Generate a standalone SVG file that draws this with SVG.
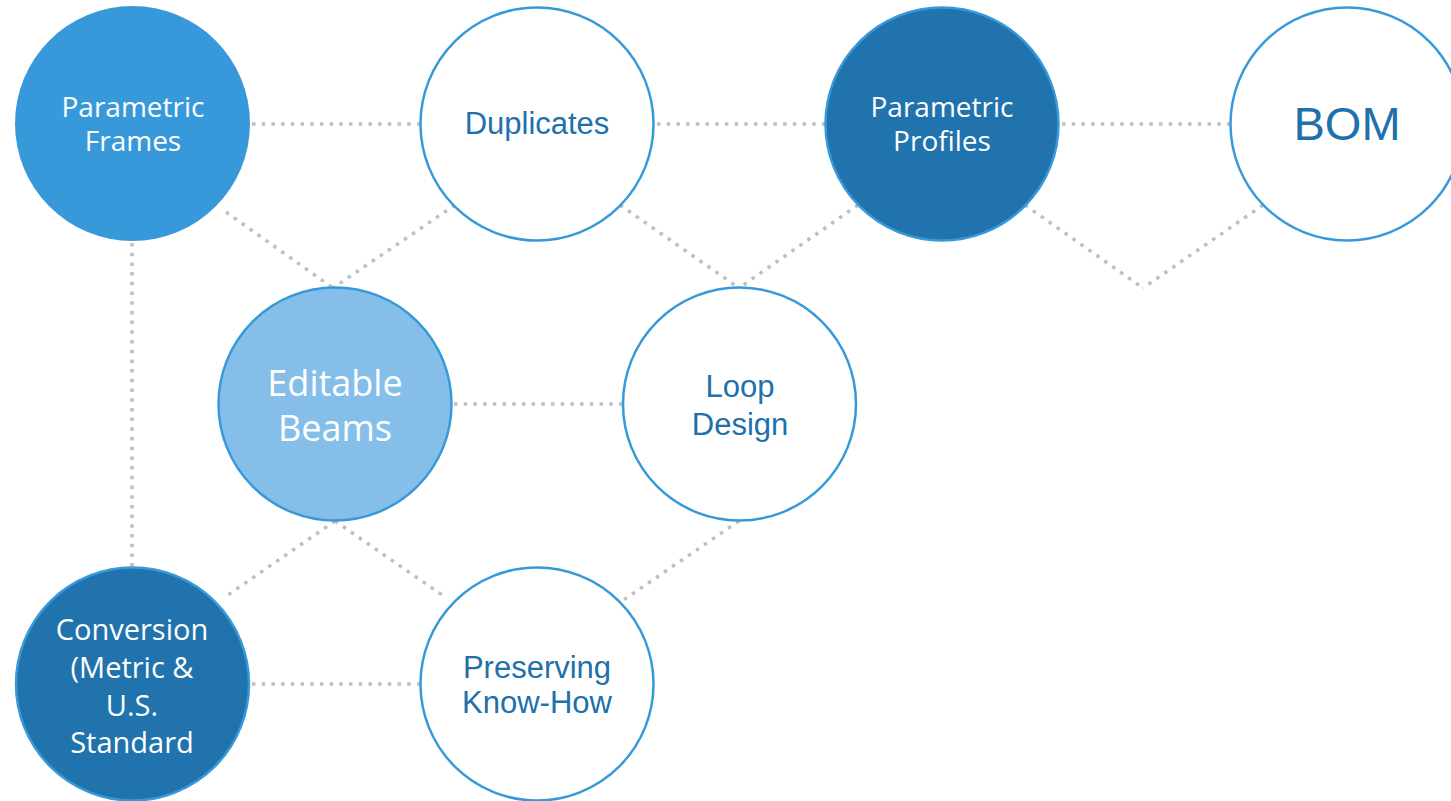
<svg xmlns="http://www.w3.org/2000/svg" width="1451" height="801" viewBox="0 0 1451 801">
<style>
.link{stroke:#bfbfbf;stroke-width:3.5;stroke-dasharray:3.5 6.2;fill:none}
.c{stroke:#3899da;stroke-width:2.5}
.white{fill:#ffffff}
.mid{fill:#3899da}
.dark{fill:#2173ad}
.light{fill:#85bfe9}
.tw{fill:#ffffff;font-family:"Open Sans","Noto Sans",sans-serif;text-anchor:middle}
.tb{fill:#2070ab;font-family:"Liberation Sans",Arial,sans-serif;text-anchor:middle}
</style>
<rect width="1451" height="801" fill="#ffffff"/>
<g id="connectors">
<line class="link" x1="252" y1="124" x2="420" y2="124"/>
<line class="link" x1="657" y1="124" x2="825" y2="124"/>
<line class="link" x1="1062" y1="124" x2="1230" y2="124"/>
<line class="link" x1="226" y1="212" x2="333" y2="288"/>
<line class="link" x1="455" y1="205" x2="333" y2="288"/>
<line class="link" x1="620" y1="205" x2="739" y2="288"/>
<line class="link" x1="858" y1="205" x2="739" y2="288"/>
<line class="link" x1="1025" y1="205" x2="1143" y2="288"/>
<line class="link" x1="1263" y1="205" x2="1143" y2="288"/>
<line class="link" x1="132" y1="243" x2="132" y2="568"/>
<line class="link" x1="454" y1="404" x2="623" y2="404"/>
<line class="link" x1="335" y1="521" x2="225" y2="597"/>
<line class="link" x1="335" y1="521" x2="445" y2="597"/>
<line class="link" x1="739" y1="521" x2="622" y2="601"/>
<line class="link" x1="252" y1="684" x2="420" y2="684"/>
</g>
<g id="parametric-frames">
<circle cx="132.5" cy="123.5" r="117.5" class="mid"/>
<text class="tw" font-size="28"><tspan x="133" y="117">Parametric</tspan><tspan x="133" y="151">Frames</tspan></text>
</g>
<g id="duplicates">
<circle cx="537" cy="124" r="116.5" class="white c"/>
<text class="tb" font-size="31" x="537" y="134">Duplicates</text>
</g>
<g id="parametric-profiles">
<circle cx="942" cy="124" r="116.5" class="dark c"/>
<text class="tw" font-size="28"><tspan x="942" y="117">Parametric</tspan><tspan x="942" y="151">Profiles</tspan></text>
</g>
<g id="bom">
<circle cx="1347" cy="124" r="116.5" class="white c"/>
<text class="tb" font-size="47" x="1347" y="140">BOM</text>
</g>
<g id="editable-beams">
<circle cx="335" cy="404" r="116.5" class="light c"/>
<text class="tw" font-size="36"><tspan x="335" y="396">Editable</tspan><tspan x="335" y="441">Beams</tspan></text>
</g>
<g id="loop-design">
<circle cx="739.5" cy="404" r="116.5" class="white c"/>
<text class="tb" font-size="31"><tspan x="740" y="397">Loop</tspan><tspan x="740" y="435">Design</tspan></text>
</g>
<g id="conversion">
<circle cx="132.5" cy="684" r="116.5" class="dark c"/>
<text class="tw" font-size="29"><tspan x="132" y="640">Conversion</tspan><tspan x="132" y="678">(Metric &amp;</tspan><tspan x="132" y="716">U.S.</tspan><tspan x="132" y="753">Standard</tspan></text>
</g>
<g id="preserving-know-how">
<circle cx="537" cy="684" r="116.5" class="white c"/>
<text class="tb" font-size="31"><tspan x="537" y="678">Preserving</tspan><tspan x="537" y="713">Know-How</tspan></text>
</g>
</svg>
